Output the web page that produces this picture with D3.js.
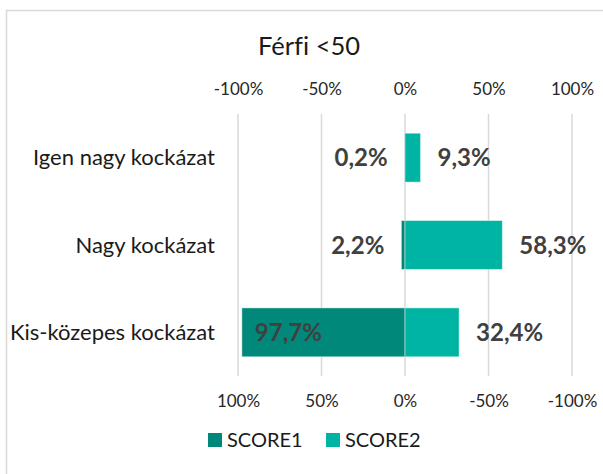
<!DOCTYPE html>
<html>
<head>
<meta charset="utf-8">
<script src="https://cdn.jsdelivr.net/npm/d3@7/dist/d3.min.js"></script>
<style>
	body { margin: 0; background: #fff; }
	svg { display: block; font-family: Lato, "Open Sans", sans-serif; font-variant-ligatures: none; }
</style>
</head>
<body>
<div id="chart"></div>
<script>
	// Adatok
	var categories = ["Igen nagy kockázat", "Nagy kockázat", "Kis-közepes kockázat"];
	var score1 = [0.2, 2.2, 97.7];
	var score2 = [9.3, 58.3, 32.4];
	var seriesNames = ["SCORE1", "SCORE2"];
	var seriesColors = ["#00897b", "#00b4a3"];
	var topTicks = [-100, -50, 0, 50, 100];

	var width = 603,
		height = 474;

	var svg = d3.select("#chart").append("svg")
		.attr("width", width)
		.attr("height", height);

	// keret
	svg.append("rect")
		.attr("x", 6.5)
		.attr("y", 10.5)
		.attr("width", 640)
		.attr("height", 520)
		.attr("fill", "none")
		.attr("stroke", "#d9d9d9")
		.attr("stroke-width", 1.5);

	svg.append("text")
		.attr("x", 309)
		.attr("y", 55)
		.attr("text-anchor", "middle")
		.attr("font-size", 25.5)
		.attr("fill", "#1a1a1a")
		.text("Férfi <50");

	var x = d3.scaleLinear().domain([-100, 100]).range([238, 572]);
	// a második tengely fordított
	var x2 = d3.scaleLinear().domain([100, -100]).range([238, 572]);

	var y = d3.scaleBand()
		.domain(categories)
		.range([114, 376])
		.paddingInner(0.44)
		.paddingOuter(0.22);

	var fmtPct = function(d) { return d + "%"; };
	var fmtVal = function(d) { return d.toFixed(1).replace(".", ",") + "%"; };

	// rácsvonalak
	svg.append("g")
		.selectAll("line")
		.data(topTicks)
		.join("line")
		.attr("x1", function(d) { return x(d); })
		.attr("x2", function(d) { return x(d); })
		.attr("y1", 114)
		.attr("y2", 376)
		.attr("stroke", "#d9d9d9")
		.attr("stroke-width", 1.5);

	var topAxis = svg.append("g")
		.attr("transform", "translate(0,92)")
		.call(d3.axisTop(x).tickValues(topTicks).tickFormat(fmtPct).tickSize(0));

	var bottomAxis = svg.append("g")
		.attr("transform", "translate(0,392)")
		.call(d3.axisBottom(x2).tickValues(topTicks).tickFormat(fmtPct).tickSize(0));

	[topAxis, bottomAxis].forEach(function(ax) {
		ax.select(".domain").remove();
		ax.selectAll("text")
			.attr("font-size", 17)
			.attr("font-family", "Lato, sans-serif")
			.attr("fill", "#262626");
	});
	topAxis.selectAll("text").attr("dy", "0.35em");
	bottomAxis.selectAll("text").attr("dy", "0.68em");

	// kategória címkék
	svg.append("g")
		.selectAll("text")
		.data(categories)
		.join("text")
		.attr("x", 215)
		.attr("y", function(d) { return y(d) + y.bandwidth() / 2; })
		.attr("dy", "0.35em")
		.attr("text-anchor", "end")
		.attr("font-size", 22)
		.attr("fill", "#1a1a1a")
		.text(function(d) { return d; });

	var rows = categories.map(function(c, i) {
		return { cat: c, s1: score1[i], s2: score2[i] };
	});

	var bars = svg.append("g");

	bars.selectAll(".s1")
		.data(rows)
		.join("rect")
		.attr("class", "s1")
		.attr("x", function(d) { return x(-d.s1); })
		.attr("y", function(d) { return y(d.cat); })
		.attr("width", function(d) { return x(0) - x(-d.s1); })
		.attr("height", y.bandwidth())
		.attr("fill", seriesColors[0])
		.attr("stroke", "rgba(255,255,255,0.45)")
		.attr("stroke-width", 1);

	bars.selectAll(".s2")
		.data(rows)
		.join("rect")
		.attr("class", "s2")
		.attr("x", x(0))
		.attr("y", function(d) { return y(d.cat); })
		.attr("width", function(d) { return x(d.s2) - x(0); })
		.attr("height", y.bandwidth())
		.attr("fill", seriesColors[1])
		.attr("stroke", "rgba(255,255,255,0.45)")
		.attr("stroke-width", 1);

	var labelGap = 17;

	// SCORE1 címkék: a sáv elé, ha nem fér ki akkor belülre
	var fitsOutside = function(d) {
		return x(-d.s1) - labelGap - 65 >= x(-100);
	};

	svg.append("g")
		.selectAll("text")
		.data(rows)
		.join("text")
		.attr("x", function(d) {
			return fitsOutside(d) ? x(-d.s1) - labelGap : x(-d.s1) + 13;
		})
		.attr("text-anchor", function(d) { return fitsOutside(d) ? "end" : "start"; })
		.attr("y", function(d) { return y(d.cat) + y.bandwidth() / 2; })
		.attr("dy", "0.36em")
		.attr("font-size", 24)
		.attr("font-weight", "bold")
		.attr("fill", "#404040")
		.text(function(d) { return fmtVal(d.s1); });

	svg.append("g")
		.selectAll("text")
		.data(rows)
		.join("text")
		.attr("x", function(d) { return x(d.s2) + labelGap; })
		.attr("y", function(d) { return y(d.cat) + y.bandwidth() / 2; })
		.attr("dy", "0.36em")
		.attr("font-size", 24)
		.attr("font-weight", "bold")
		.attr("fill", "#404040")
		.text(function(d) { return fmtVal(d.s2); });

	// jelmagyarázat
	var legend = svg.append("g");
	var legendX = [208, 326];
	seriesNames.forEach(function(name, i) {
		var item = legend.append("g").attr("transform", "translate(" + legendX[i] + ",433)");
		item.append("rect")
			.attr("width", 14)
			.attr("height", 14)
			.attr("fill", seriesColors[i]);
		item.append("text")
			.attr("x", 19)
			.attr("y", 7)
			.attr("dy", "0.36em")
			.attr("font-size", 20)
			.attr("fill", "#1a1a1a")
			.text(name);
	});
</script>
</body>
</html>
